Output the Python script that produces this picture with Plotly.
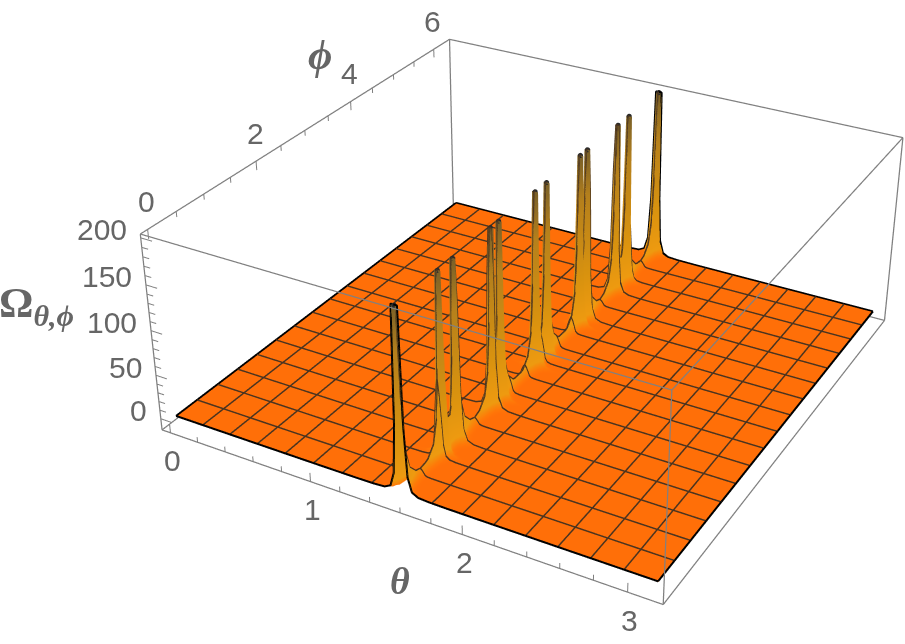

import numpy as np
import plotly.graph_objects as go

THETA_MAX = 3.14159
PHI_MAX = 6.28319
theta_range = [-0.0628, 3.2044]
phi_range = [-0.1257, 6.4089]
z_range = [-13, 204]
z_clip = 200

# values
peak_phi = [0, 0.854, 1.162, 1.979, 2.161, 3.003, 3.28, 4.122, 4.304, 5.121, 5.429, 6.28319]
peak_offset = [0, 0.03, 0.06, 0.1, 0.18, 0.3, 0.5, 0.8]
peak_height = [400, 210, 100, 45, 20, 10, 5, 2]
ridge_dtheta = [0, 0.01, 0.02, 0.03, 0.045, 0.07, 0.11, 0.18, 0.3, 0.6, 1.0]
ridge_fraction = [1, 0.8, 0.5, 0.18, 0.05, 0.012, 0.003, 0.001, 0.0003, 0.00005, 0]
mesh_count = 16
theta_ticks = [0, 1, 2, 3]
phi_ticks = [0, 2, 4, 6]
z_ticks = [0, 50, 100, 150, 200]

mesh_theta = np.linspace(0, THETA_MAX, mesh_count + 1)
mesh_phi = np.linspace(0, PHI_MAX, mesh_count + 1)
mid = THETA_MAX / 2
t_knots = [mid + s * d for d in ridge_dtheta for s in (-1, 1)]
p_knots = [p + s * d for p in peak_phi for d in peak_offset for s in (-1, 1)]
theta = np.unique(np.round(np.clip(np.r_[t_knots, mesh_theta], 0, THETA_MAX), 6))
phi = np.unique(np.round(np.clip(np.r_[p_knots, mesh_phi], 0, PHI_MAX), 6))


def ridge(ph):
    return max(np.interp(abs(ph - p), peak_offset, peak_height, right=2) for p in peak_phi)


ridge_values = np.array([ridge(v) for v in phi])
fall = np.interp(np.abs(theta - mid), ridge_dtheta, ridge_fraction)
Z = np.minimum(np.outer(ridge_values, fall), z_clip)  # rows: phi, cols: theta

ORANGE = "#FF6F08"
colorscale = [[0, ORANGE], [0.01, "#FF7808"], [0.05, "#EE9A10"], [0.3, "#D8920F"], [0.75, "#B5801C"], [1, "#7A6028"]]

fig = go.Figure()
fig.add_trace(go.Surface(x=theta, y=phi, z=Z, surfacecolor=Z, cmin=0, cmax=200, colorscale=colorscale,
                         showscale=False, hoverinfo="skip",
                         lighting=dict(ambient=1, diffuse=0, specular=0, roughness=1, fresnel=0)))

LIFT = 0.6


def seg(xs, ys, zs, color, width):
    fig.add_trace(go.Scatter3d(x=xs, y=ys, z=zs, mode="lines", line=dict(color=color, width=width),
                               hoverinfo="skip", showlegend=False))


# mesh lines
mx, my, mz = [], [], []
for t in mesh_theta[1:-1]:
    i = int(np.argmin(np.abs(theta - t)))
    mx += [theta[i]] * len(phi) + [None]; my += list(phi) + [None]; mz += list(Z[:, i] + LIFT) + [None]
for p in mesh_phi[1:-1]:
    j = int(np.argmin(np.abs(phi - p)))
    mx += list(theta) + [None]; my += [phi[j]] * len(theta) + [None]; mz += list(Z[j, :] + LIFT) + [None]
seg(mx, my, mz, "#4A3420", 3)

# boundary
bx, by, bz = [], [], []
for i in (0, len(theta) - 1):
    bx += [theta[i]] * len(phi) + [None]; by += list(phi) + [None]; bz += list(Z[:, i] + LIFT) + [None]
for j in (0, len(phi) - 1):
    bx += list(theta) + [None]; by += [phi[j]] * len(theta) + [None]; bz += list(Z[j, :] + LIFT) + [None]
seg(bx, by, bz, "#000000", 4)

# peak caps
fig.add_trace(go.Scatter3d(x=[mid] * len(peak_phi), y=peak_phi, z=[z_clip] * len(peak_phi), mode="markers",
                           marker=dict(color="#2A2A2A", size=3), hoverinfo="skip", showlegend=False))

# box
x0, x1 = theta_range
y0, y1 = phi_range
z0, z1 = z_range
ex, ey, ez = [], [], []
for a in (y0, y1):
    for b in (z0, z1):
        ex += [x0, x1, None]; ey += [a, a, None]; ez += [b, b, None]
for a in (x0, x1):
    for b in (z0, z1):
        ex += [a, a, None]; ey += [y0, y1, None]; ez += [b, b, None]
for a in (x0, x1):
    for b in (y0, y1):
        ex += [a, a, None]; ey += [b, b, None]; ez += [z0, z1, None]
seg(ex, ey, ez, "#808080", 2.5)

# ticks
tx, ty, tz = [], [], []
for k in range(0, 16):
    v = k * 0.2
    L = 10 if k % 5 == 0 else 6
    tx += [v, v, None]; ty += [y0, y0, None]; tz += [z0, z0 + L, None]
for k in range(0, 13):
    v = k * 0.5
    L = 10 if k % 4 == 0 else 6
    tx += [x0, x0, None]; ty += [v, v, None]; tz += [z1, z1 - L, None]
for k in range(0, 21):
    v = k * 10
    L = 0.08 if k % 5 == 0 else 0.045
    tx += [x0, x0 + L, None]; ty += [y0, y0, None]; tz += [v, v, None]
seg(tx, ty, tz, "#808080", 2)

TICK = dict(family="Liberation Sans, Arial, sans-serif", size=30, color="#666666")
TITLE = dict(family="Liberation Serif, Times New Roman, serif", color="#666666")
ann = []
for v in theta_ticks:
    ann.append(dict(x=v, y=y0, z=z0, text=str(v), showarrow=False, font=TICK, xanchor="center", yanchor="middle", xshift=2, yshift=-28))
for v in phi_ticks:
    ann.append(dict(x=x0, y=v, z=z1, text=str(v), showarrow=False, font=TICK, xanchor="center", yanchor="middle", xshift=-1, yshift=28))
for v in z_ticks:
    ann.append(dict(x=x0, y=y0, z=v, text=str(v), showarrow=False, font=TICK, xanchor="right", yanchor="middle", xshift=-12, yshift=8))
ann.append(dict(x=1.5, y=y0, z=z0, text="<b><i>θ</i></b>", showarrow=False, font=dict(size=38, **TITLE), xshift=15, yshift=-73))
ann.append(dict(x=x0, y=3, z=z1, text="<b><i>ϕ</i></b>", showarrow=False, font=dict(size=42, **TITLE), xshift=15, yshift=75))
ann.append(dict(x=x0, y=y0, z=100, text="<b>Ω<sub><i>θ,ϕ</i></sub></b>", showarrow=False, font=dict(size=43, **TITLE), xshift=-115, yshift=25))


def widened(r):
    pad = (r[1] - r[0]) * 0.001
    return [r[0] - pad, r[1] + pad]


axis = dict(visible=False, showspikes=False)
fig.update_layout(
    width=1071, height=1563, autosize=False, margin=dict(l=0, r=0, t=0, b=0),
    paper_bgcolor="white", showlegend=False,
    scene=dict(
        domain=dict(x=[0, 1], y=[0, 1]),
        xaxis=dict(range=widened(theta_range), **axis), yaxis=dict(range=widened(phi_range), **axis),
        zaxis=dict(range=widened(z_range), **axis),
        aspectmode="manual", aspectratio=dict(x=1, y=1.0032, z=0.399),
        camera=dict(eye=dict(x=1.4676, y=-2.6383, z=1.7015), center=dict(x=-0.1003, y=0.1594, z=0),
                    up=dict(x=0, y=0, z=1)),
        annotations=ann),
)
fig.write_html("out.html", config=dict(displayModeBar=False),
               post_script="document.body.style.margin='0';document.body.style.overflow='hidden';document.documentElement.style.overflow='hidden';document.getElementById('{plot_id}').style.marginTop='-549px';")
